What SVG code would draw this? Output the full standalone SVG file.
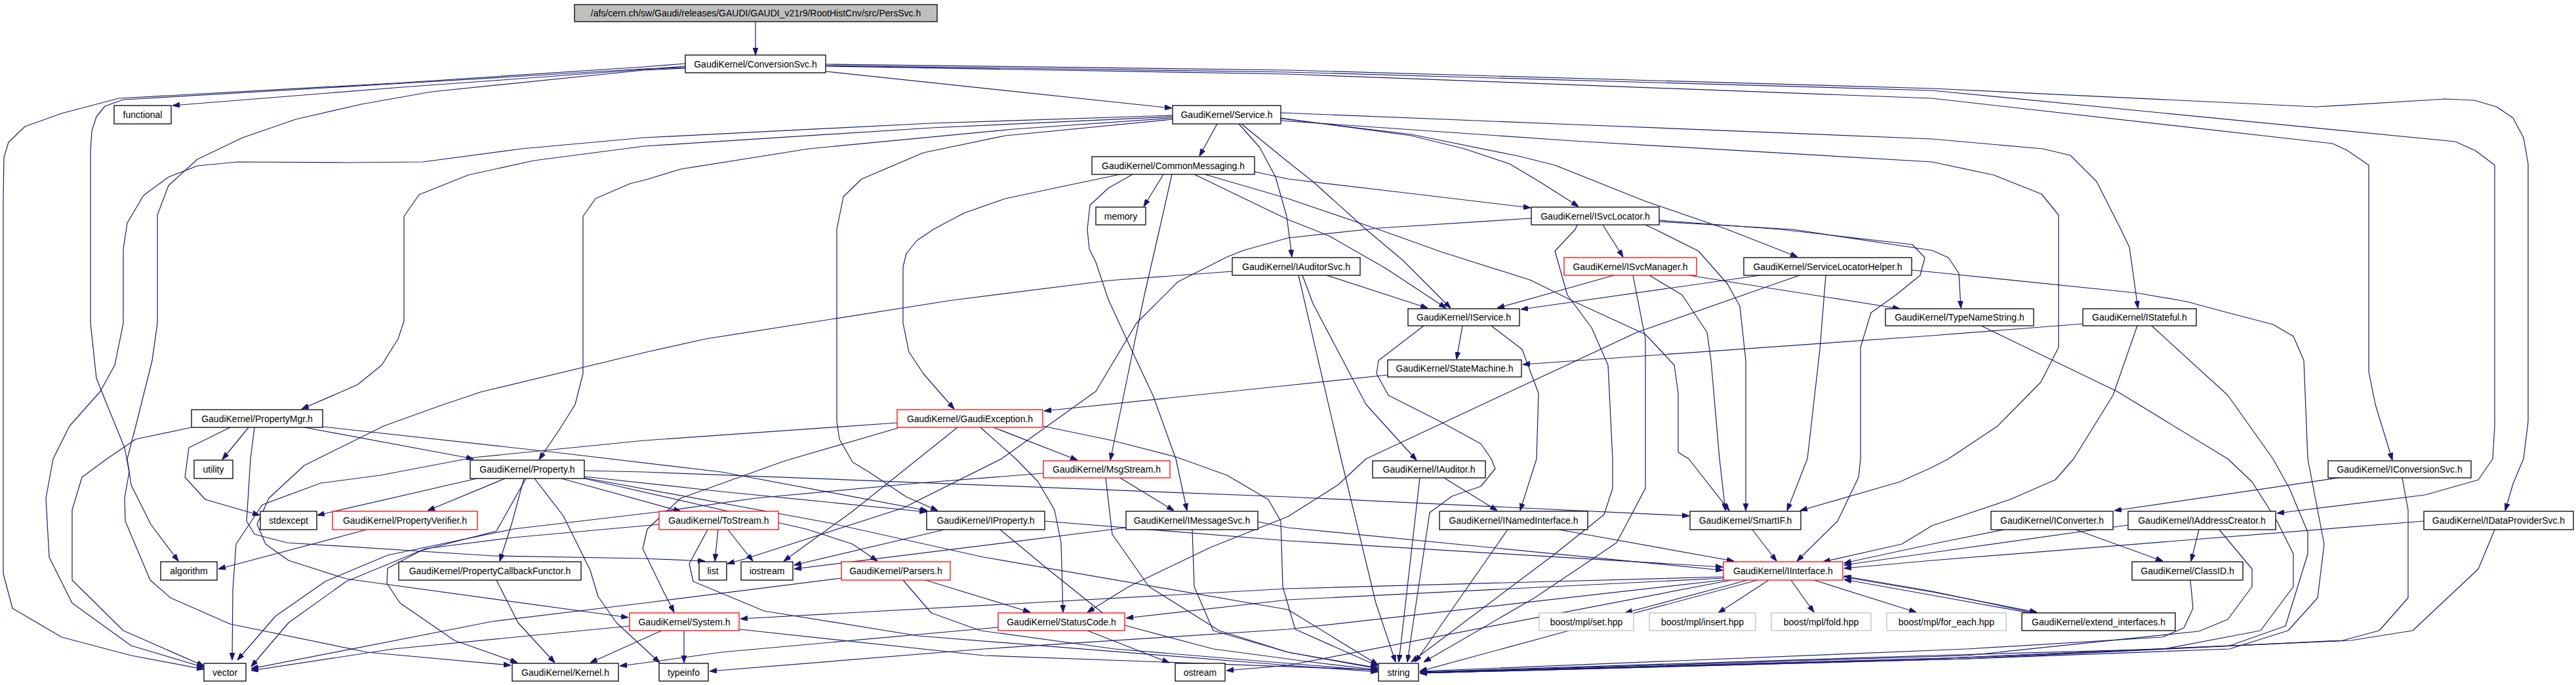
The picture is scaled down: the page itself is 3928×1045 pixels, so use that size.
<svg xmlns="http://www.w3.org/2000/svg" width="3928" height="1045" viewBox="0 0 3928 1045">
<style>
.n rect{fill:#fff;stroke:#000;stroke-width:1.3}
.n.r rect{stroke:#f00}
.n.g rect{stroke:#bfbfbf}
.n.root rect{fill:#bfbfbf}
.n text{font-family:"Liberation Sans",Arial,sans-serif;font-size:14px;text-anchor:middle;fill:#000}
#edges path{fill:none;stroke:#191970;stroke-width:1.2;stroke-linejoin:round;marker-end:url(#a)}
</style>
<defs>
<marker id="a" viewBox="0 0 10 7" refX="10" refY="3.5" markerWidth="11" markerHeight="8" markerUnits="userSpaceOnUse" orient="auto">
<path d="M0,0 L10,3.5 L0,7 z" fill="#191970" stroke="#191970"/>
</marker>
</defs>
<rect width="3928" height="1045" fill="#fff"/>
<g id="edges">
<path d="M1152,33 L1152,84"/>
<path d="M1045,101 L982,106 L752,123 L626,132 L438,147 L263,161"/>
<path d="M1045,97 L982,102 L600,127 L181,150 L94,173 L38,193 L13,217 L6,240 L5,300 L5,875 L19,928 L94,972 L200,1000 L311,1021"/>
<path d="M1045,103 L982,105 L600,128 L188,152 L160,162 L147,178 L140,200 L138,230 L138,493 L147,577 L163,617 L190,683 L197,720 L190,760 L191,795 L229,885 L260,912 L351,952 L560,995 L779,1015"/>
<path d="M1045,104 L982,107 L658,140 L551,159 L451,182 L370,210 L301,243 L257,283 L240,328 L240,493 L232,550 L207,650 L194,700 L200,740 L230,800 L272,856"/>
<path d="M1259,109 L1787,165"/>
<path d="M1259,101 L1964,113 L2946,150 L3557,219 L3580,230 L3612,252 L3612,567 L3622,617 L3648,702"/>
<path d="M1259,100 L1964,110 L2946,138 L3744,216 L3775,230 L3804,252 L3804,650 L3801,700 L3779,732 L3698,755 L3472,783"/>
<path d="M1259,98 L1964,107 L2946,135 L3532,163 L3729,151 L3773,153 L3807,163 L3832,180 L3848,210 L3855,250 L3855,643 L3848,700 L3832,738 L3820,779"/>
<path d="M1788,176 L1420,188 L982,210 L795,227 L645,247 L532,248 L363,247 L301,253 L257,270 L219,298 L194,340 L188,380 L188,493 L175,557 L153,597 L106,650 L81,700 L70,760 L75,850 L110,920 L200,985 L311,1018"/>
<path d="M1788,178 L1420,195 L982,223 L814,245 L714,267 L639,297 L616,330 L616,490 L607,517 L582,557 L545,587 L460,624"/>
<path d="M1788,180 L1546,197 L1233,227 L1038,258 L982,275 L961,280 L908,303 L889,330 L889,570 L877,617 L852,657 L822,701"/>
<path d="M1788,182 L1533,207 L1408,233 L1314,273 L1286,300 L1276,350 L1276,643 L1280,670 L1300,705 L1325,720 L1382,758 L1430,779"/>
<path d="M1856,189 L1829,238"/>
<path d="M1889,189 L1921,225 L1945,270 L1962,330 L1970,392"/>
<path d="M1893,189 L1964,247 L2002,277 L2083,350 L2139,397 L2212,470"/>
<path d="M1953,180 L2152,207 L2233,227 L2302,250 L2352,280 L2407,315"/>
<path d="M1953,181 L2152,205 L2315,238 L2371,252 L2509,307 L2634,350 L2741,392"/>
<path d="M1953,172 L2400,190 L2946,212 L3115,227 L3157,237 L3197,277 L3234,350 L3247,377 L3260,470"/>
<path d="M1953,184 L2400,215 L2946,247 L3040,267 L3113,296 L3139,328 L3139,530 L3112,583 L3046,650 L2971,700 L2946,713 L2897,735 L2745,779"/>
<path d="M1774,266 L1744,315"/>
<path d="M1708,266 L1608,287 L1533,303 L1470,325 L1423,350 L1398,367 L1382,387 L1377,407 L1377,493 L1386,537 L1408,570 L1455,624"/>
<path d="M1787,266 L1768,350 L1745,450 L1727,537 L1710,620 L1693,702"/>
<path d="M1727,266 L1690,287 L1662,313 L1658,350 L1661,380 L1671,400 L1690,457 L1727,537 L1758,603 L1793,700 L1810,779"/>
<path d="M1821,266 L1964,335 L2002,350 L2027,360 L2114,410 L2205,470"/>
<path d="M1837,266 L1964,303 L2102,350 L2200,385 L2333,427 L2400,460 L2509,510 L2553,557 L2559,600 L2559,690 L2575,700 L2637,779"/>
<path d="M1913,262 L1964,273 L2150,295 L2334,317"/>
<path d="M2335,333 L2102,348 L1964,363 L1896,382 L1871,392 L1796,430 L1733,493 L1671,597 L1527,700 L1377,775 L1138,852 L1109,860"/>
<path d="M2405,343 L2402,350 L2371,383 L2390,450 L2427,500 L2452,557 L2459,700 L2459,745 L2446,785 L2371,845 L2152,1010"/>
<path d="M2444,343 L2475,392"/>
<path d="M2509,343 L2524,350 L2590,383 L2634,433 L2653,467 L2662,550 L2662,779"/>
<path d="M2530,336 L2715,350 L2916,373 L2935,393 L2928,420 L2891,450 L2853,477 L2837,530 L2837,700 L2834,728 L2802,795 L2740,856"/>
<path d="M2530,338 L2734,350 L2946,382 L2971,393 L2987,417 L2990,470"/>
<path d="M2461,420 L2283,470"/>
<path d="M2490,420 L2509,517 L2509,745 L2465,828 L2340,912 L2171,1010"/>
<path d="M2515,420 L2565,450 L2603,507 L2609,550 L2622,700 L2631,779"/>
<path d="M2575,420 L2897,471"/>
<path d="M2684,420 L2319,472"/>
<path d="M2744,420 L2496,507 L2083,700 L2040,740 L1964,788 L1846,835 L1721,895 L1658,934"/>
<path d="M2784,420 L2775,533 L2756,700 L2725,779"/>
<path d="M2915,412 L2946,415 L3259,447 L3334,460 L3397,477 L3466,495 L3497,513 L3513,550 L3519,700 L3544,830 L3534,912 L3489,962 L3400,990 L3000,1005 L2165,1027"/>
<path d="M3021,497 L3228,597 L3397,700 L3434,735 L3472,795 L3497,845 L3497,895 L3447,962 L3300,990 L2946,1000 L2165,1025"/>
<path d="M3176,494 L2946,512 L2322,556"/>
<path d="M3259,497 L3222,603 L3162,700 L3134,732 L3065,762 L2946,802 L2900,830 L2780,857"/>
<path d="M3281,497 L3397,603 L3466,700 L3491,745 L3519,812 L3519,845 L3485,955 L3400,985 L2946,1005 L2165,1026"/>
<path d="M2230,497 L2221,548"/>
<path d="M2274,497 L2321,533 L2346,600 L2343,700 L2318,779"/>
<path d="M2171,497 L2102,550 L2099,570 L2117,603 L2196,643 L2258,677 L2274,700 L2280,715 L2258,742 L2214,757 L2180,782 L2146,1010"/>
<path d="M2116,572 L1964,588 L1592,627"/>
<path d="M2023,420 L2177,470"/>
<path d="M1980,420 L2045,700 L2098,920 L2128,1010"/>
<path d="M1986,420 L2002,463 L2083,617 L2160,702"/>
<path d="M1879,414 L1690,428 L1452,458 L1076,517 L982,538 L733,598 L668,620 L585,650 L464,710 L410,760 L392,800 L405,830 L440,855 L528,883 L958,942"/>
<path d="M292,652 L207,670 L163,700 L125,728 L110,778 L110,885 L188,962 L311,1016"/>
<path d="M351,652 L288,683 L282,728 L313,762 L396,786"/>
<path d="M379,652 L339,701"/>
<path d="M464,652 L722,700"/>
<path d="M492,651 L846,690 L1100,720 L1414,779"/>
<path d="M388,652 L382,700 L376,795 L388,815 L438,828 L752,848 L982,852 L1075,856"/>
<path d="M727,730 L484,786"/>
<path d="M770,730 L652,779"/>
<path d="M799,730 L780,800 L762,856"/>
<path d="M802,730 L757,810 L642,840 L591,867 L590,890 L610,920 L693,977 L789,1011"/>
<path d="M815,730 L859,787 L900,870 L912,910 L940,950 L1006,1011"/>
<path d="M891,718 L982,720 L1964,758 L2576,787"/>
<path d="M891,727 L1101,750 L1413,781"/>
<path d="M856,730 L1038,780"/>
<path d="M891,730 L1229,807 L1300,830 L1338,856"/>
<path d="M891,729 L1261,797 L1500,850 L1964,930 L2101,1014"/>
<path d="M559,808 L333,868"/>
<path d="M757,885 L790,950 L846,1011"/>
<path d="M1095,808 L1090,856"/>
<path d="M1110,808 L1148,856"/>
<path d="M1079,808 L1051,860 L1057,887 L1165,932 L1400,970 L1964,1015 L2101,1025"/>
<path d="M1005,800 L783,820 L649,837 L528,887 L440,950 L383,1017"/>
<path d="M1440,808 L1211,862"/>
<path d="M1593,795 L1964,825 L2627,865"/>
<path d="M1525,808 L1600,870 L1700,950 L1850,990 L2000,1010 L2101,1022"/>
<path d="M1717,805 L1211,868"/>
<path d="M1918,796 L1964,805 L2627,870"/>
<path d="M1818,808 L1821,895 L1850,962 L1964,995 L2101,1020"/>
<path d="M1708,729 L1790,779"/>
<path d="M1591,722 L1400,737 L1152,760 L1012,780 L783,807 L591,847 L496,887 L420,940 L362,1007"/>
<path d="M1686,729 L1696,815 L1752,895 L1859,962 L1964,995 L2101,1019"/>
<path d="M1515,652 L1643,702"/>
<path d="M1495,652 L1549,700 L1583,735 L1608,778 L1618,828 L1621,934"/>
<path d="M1460,652 L1400,700 L1300,780 L1195,856"/>
<path d="M1369,653 L1197,703 L1038,760 L987,807 L980,837 L1012,903 L1028,934"/>
<path d="M1590,650 L1696,672 L1793,697 L1871,725 L1934,762 L1953,795 L1956,895 L1975,960 L2101,1016"/>
<path d="M1368,645 L982,672 L722,698 L580,725 L489,737 L400,770 L360,830 L355,900 L354,1007"/>
<path d="M1283,882 L982,920 L751,948 L383,1020"/>
<path d="M1411,885 L1571,934"/>
<path d="M1377,885 L1420,935 L1495,962 L1700,990 L2000,1015 L2101,1023"/>
<path d="M1043,962 L1043,1011"/>
<path d="M1009,962 L900,1011"/>
<path d="M1127,960 L1500,1000 L2101,1022"/>
<path d="M960,955 L600,990 L383,1023"/>
<path d="M1658,962 L1783,1011"/>
<path d="M1522,957 L1100,995 L1007,1008 L945,1016"/>
<path d="M2665,885 L2478,935"/>
<path d="M2697,885 L2620,935"/>
<path d="M2731,885 L2766,934"/>
<path d="M2766,885 L2922,934"/>
<path d="M2810,880 L2946,903 L3106,934"/>
<path d="M3095,935 L2946,908 L2812,884"/>
<path d="M3102,935 L2946,902 L2812,879"/>
<path d="M2628,880 L1964,898 L1129,944"/>
<path d="M2628,882 L1964,915 L1717,943"/>
<path d="M2628,885 L1964,960 L1500,990 L1082,1024"/>
<path d="M2640,885 L1964,1015 L1870,1023"/>
<path d="M2680,885 L2400,960 L2165,1024"/>
<path d="M2672,808 L2709,856"/>
<path d="M2377,808 L2644,856"/>
<path d="M2299,808 L2158,1010"/>
<path d="M2202,729 L2283,779"/>
<path d="M2165,729 L2133,1010"/>
<path d="M3566,729 L3224,779"/>
<path d="M3663,729 L3672,778 L3672,912 L3628,962 L3572,977 L3000,1005 L2165,1027"/>
<path d="M3165,808 L3298,856"/>
<path d="M3056,808 L2946,830 L2812,859"/>
<path d="M3353,808 L3341,856"/>
<path d="M3245,801 L2946,843 L2812,862"/>
<path d="M3384,808 L3434,868 L3434,895 L3397,945 L3353,963 L3000,1000 L2165,1026"/>
<path d="M3696,795 L2946,855 L2812,867"/>
<path d="M3804,808 L3779,868 L3679,962 L3585,977 L3000,1003 L2165,1027"/>
<path d="M3340,885 L3344,928 L3330,958 L3297,972 L3000,990 L2165,1024"/>
</g>
<g id="n_PersSvc" class="n root"><rect x="876" y="7" width="553" height="26"/><text x="1152.5" y="25">/afs/cern.ch/sw/Gaudi/releases/GAUDI/GAUDI_v21r9/RootHistCnv/src/PersSvc.h</text></g>
<g id="n_ConversionSvc" class="n"><rect x="1045" y="84" width="214" height="27"/><text x="1152" y="103">GaudiKernel/ConversionSvc.h</text></g>
<g id="n_functional" class="n"><rect x="174" y="161" width="87" height="28"/><text x="217.5" y="180">functional</text></g>
<g id="n_Service" class="n"><rect x="1788" y="161" width="165" height="28"/><text x="1870.5" y="180">GaudiKernel/Service.h</text></g>
<g id="n_CommonMessaging" class="n"><rect x="1665" y="239" width="248" height="27"/><text x="1789" y="258">GaudiKernel/CommonMessaging.h</text></g>
<g id="n_memory" class="n"><rect x="1671" y="316" width="76" height="27"/><text x="1709" y="335">memory</text></g>
<g id="n_ISvcLocator" class="n"><rect x="2335" y="316" width="195" height="27"/><text x="2432.5" y="335">GaudiKernel/ISvcLocator.h</text></g>
<g id="n_IAuditorSvc" class="n"><rect x="1879" y="393" width="195" height="27"/><text x="1976.5" y="412">GaudiKernel/IAuditorSvc.h</text></g>
<g id="n_ISvcManager" class="n r"><rect x="2385" y="393" width="202" height="27"/><text x="2486" y="412">GaudiKernel/ISvcManager.h</text></g>
<g id="n_ServiceLocatorHelper" class="n"><rect x="2659" y="393" width="256" height="27"/><text x="2787" y="412">GaudiKernel/ServiceLocatorHelper.h</text></g>
<g id="n_IService" class="n"><rect x="2147" y="471" width="170" height="26"/><text x="2232" y="489">GaudiKernel/IService.h</text></g>
<g id="n_TypeNameString" class="n"><rect x="2875" y="471" width="226" height="26"/><text x="2988" y="489">GaudiKernel/TypeNameString.h</text></g>
<g id="n_IStateful" class="n"><rect x="3176" y="471" width="173" height="26"/><text x="3262.5" y="489">GaudiKernel/IStateful.h</text></g>
<g id="n_StateMachine" class="n"><rect x="2116" y="549" width="204" height="26"/><text x="2218" y="567">GaudiKernel/StateMachine.h</text></g>
<g id="n_PropertyMgr" class="n"><rect x="292" y="625" width="200" height="27"/><text x="392" y="644">GaudiKernel/PropertyMgr.h</text></g>
<g id="n_GaudiException" class="n r"><rect x="1368" y="625" width="222" height="27"/><text x="1479" y="644">GaudiKernel/GaudiException.h</text></g>
<g id="n_utility" class="n"><rect x="296" y="702" width="59" height="28"/><text x="325.5" y="721">utility</text></g>
<g id="n_Property" class="n"><rect x="717" y="702" width="174" height="28"/><text x="804" y="721">GaudiKernel/Property.h</text></g>
<g id="n_MsgStream" class="n r"><rect x="1591" y="703" width="193" height="26"/><text x="1687.5" y="721">GaudiKernel/MsgStream.h</text></g>
<g id="n_IAuditor" class="n"><rect x="2093" y="703" width="172" height="26"/><text x="2179" y="721">GaudiKernel/IAuditor.h</text></g>
<g id="n_IConversionSvc" class="n"><rect x="3550" y="703" width="218" height="26"/><text x="3659" y="721">GaudiKernel/IConversionSvc.h</text></g>
<g id="n_stdexcept" class="n"><rect x="397" y="780" width="86" height="28"/><text x="440" y="799">stdexcept</text></g>
<g id="n_PropertyVerifier" class="n r"><rect x="507" y="780" width="221" height="28"/><text x="617.5" y="799">GaudiKernel/PropertyVerifier.h</text></g>
<g id="n_ToStream" class="n r"><rect x="1005" y="780" width="182" height="28"/><text x="1096" y="799">GaudiKernel/ToStream.h</text></g>
<g id="n_IProperty" class="n"><rect x="1413" y="780" width="180" height="28"/><text x="1503" y="799">GaudiKernel/IProperty.h</text></g>
<g id="n_IMessageSvc" class="n"><rect x="1717" y="780" width="201" height="28"/><text x="1817.5" y="799">GaudiKernel/IMessageSvc.h</text></g>
<g id="n_INamedInterface" class="n"><rect x="2195" y="780" width="226" height="28"/><text x="2308" y="799">GaudiKernel/INamedInterface.h</text></g>
<g id="n_SmartIF" class="n"><rect x="2577" y="780" width="169" height="28"/><text x="2661.5" y="799">GaudiKernel/SmartIF.h</text></g>
<g id="n_IConverter" class="n"><rect x="3036" y="780" width="186" height="28"/><text x="3129" y="799">GaudiKernel/IConverter.h</text></g>
<g id="n_IAddressCreator" class="n"><rect x="3245" y="780" width="225" height="28"/><text x="3357.5" y="799">GaudiKernel/IAddressCreator.h</text></g>
<g id="n_IDataProviderSvc" class="n"><rect x="3696" y="780" width="228" height="28"/><text x="3810" y="799">GaudiKernel/IDataProviderSvc.h</text></g>
<g id="n_algorithm" class="n"><rect x="245" y="857" width="86" height="28"/><text x="288" y="876">algorithm</text></g>
<g id="n_PropertyCallbackFunctor" class="n"><rect x="608" y="857" width="278" height="28"/><text x="747" y="876">GaudiKernel/PropertyCallbackFunctor.h</text></g>
<g id="n_list" class="n"><rect x="1066" y="857" width="42" height="28"/><text x="1087" y="876">list</text></g>
<g id="n_iostream" class="n"><rect x="1130" y="857" width="79" height="28"/><text x="1169.5" y="876">iostream</text></g>
<g id="n_Parsers" class="n r"><rect x="1283" y="857" width="166" height="28"/><text x="1366" y="876">GaudiKernel/Parsers.h</text></g>
<g id="n_IInterface" class="n r"><rect x="2628" y="857" width="182" height="28"/><text x="2719" y="876">GaudiKernel/IInterface.h</text></g>
<g id="n_ClassID" class="n"><rect x="3251" y="857" width="169" height="28"/><text x="3335.5" y="876">GaudiKernel/ClassID.h</text></g>
<g id="n_System" class="n r"><rect x="960" y="935" width="167" height="27"/><text x="1043.5" y="954">GaudiKernel/System.h</text></g>
<g id="n_StatusCode" class="n r"><rect x="1522" y="935" width="193" height="27"/><text x="1618.5" y="954">GaudiKernel/StatusCode.h</text></g>
<g id="n_set" class="n g"><rect x="2347" y="935" width="144" height="27"/><text x="2419" y="954">boost/mpl/set.hpp</text></g>
<g id="n_insert" class="n g"><rect x="2515" y="935" width="162" height="27"/><text x="2596" y="954">boost/mpl/insert.hpp</text></g>
<g id="n_fold" class="n g"><rect x="2701" y="935" width="152" height="27"/><text x="2777" y="954">boost/mpl/fold.hpp</text></g>
<g id="n_for_each" class="n g"><rect x="2877" y="935" width="182" height="27"/><text x="2968" y="954">boost/mpl/for_each.hpp</text></g>
<g id="n_extend_interfaces" class="n"><rect x="3083" y="935" width="234" height="27"/><text x="3200" y="954">GaudiKernel/extend_interfaces.h</text></g>
<g id="n_vector" class="n"><rect x="311" y="1012" width="64" height="27"/><text x="343" y="1031">vector</text></g>
<g id="n_Kernel" class="n"><rect x="781" y="1012" width="162" height="27"/><text x="862" y="1031">GaudiKernel/Kernel.h</text></g>
<g id="n_typeinfo" class="n"><rect x="1005" y="1012" width="75" height="27"/><text x="1042.5" y="1031">typeinfo</text></g>
<g id="n_ostream" class="n"><rect x="1792" y="1012" width="76" height="27"/><text x="1830" y="1031">ostream</text></g>
<g id="n_string" class="n"><rect x="2102" y="1012" width="61" height="27"/><text x="2132.5" y="1031">string</text></g>
</svg>
